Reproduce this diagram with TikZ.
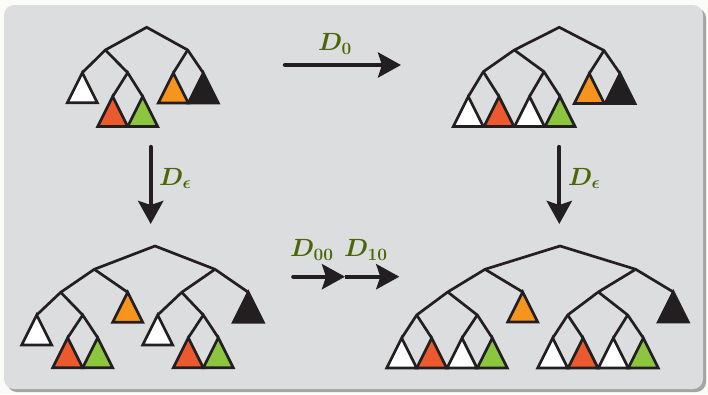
\documentclass[tikz,border=0pt]{standalone}
\usepackage{amsmath}
\usetikzlibrary{arrows.meta}
\definecolor{outside}{HTML}{FBFBF7}
\definecolor{panel}{HTML}{DCDDDF}
\definecolor{shadowc}{HTML}{A3A4A6}
\definecolor{ink}{HTML}{231F20}
\definecolor{lred}{HTML}{EB5A2E}
\definecolor{lgreen}{HTML}{8CC63F}
\definecolor{lorange}{HTML}{F7941D}
\definecolor{lblack}{HTML}{231F20}
\definecolor{lwhite}{HTML}{FFFFFF}
\definecolor{labelc}{HTML}{4A6608}
\newcommand\leaftri[2]{\filldraw[edge,fill=#2,line join=miter] (#1) -- ++(-15,30) -- ++(30,0) -- cycle;}
\begin{document}
\begin{tikzpicture}[x=1pt,y=-1pt,
  edge/.style={line width=2.7pt,draw=ink},
  bigarrow/.style={line width=4.3pt,draw=ink,line cap=round,-{Stealth[length=23pt,width=25pt,inset=4pt]}},
  lab/.style={text=labelc,inner sep=0pt,anchor=base west,font=\fontsize{25}{29}\selectfont\boldmath}]
\useasboundingbox (0,0) rectangle (708,394);
\fill[outside] (0,0) rectangle (708,394);
\fill[shadowc,rounded corners=10pt] (7,8) rectangle (706,392);
\fill[panel,rounded corners=10pt] (4,5) rectangle (703,389);

% ---------- Tree 1 ----------
\coordinate (t1r) at (146.7,27.3);
\coordinate (t1a) at (105.3,50);
\coordinate (t1b) at (187.7,50);
\coordinate (t1aa) at (82.3,72.7);
\coordinate (t1ab) at (127.7,72.7);
\coordinate (t1aba) at (112.7,96.5);
\coordinate (t1abb) at (142.7,96.5);
\coordinate (t1ba) at (173.3,73);
\coordinate (t1bb) at (203.3,73);
\draw[edge] (t1aa) -- (t1a) -- (t1r) -- (t1b) -- (t1bb);
\draw[edge] (t1a) -- (t1ab);
\draw[edge] (t1aba) -- (t1ab) -- (t1abb);
\draw[edge] (t1b) -- (t1ba);
\leaftri{t1aa}{lwhite}
\leaftri{t1aba}{lred}
\leaftri{t1abb}{lgreen}
\leaftri{t1ba}{lorange}
\leaftri{t1bb}{lblack}

% ---------- Tree 2 ----------
\coordinate (t2r) at (559.3,27.3);
\coordinate (t2a) at (514.3,50);
\coordinate (t2b) at (604,50.5);
\coordinate (t2aa) at (483.3,71.7);
\coordinate (t2ab) at (544,71.7);
\coordinate (t2aaa) at (468.3,96.5);
\coordinate (t2aab) at (499,96.5);
\coordinate (t2aba) at (529.5,96.5);
\coordinate (t2abb) at (560,96.5);
\coordinate (t2ba) at (589.3,73.5);
\coordinate (t2bb) at (620,73.5);
\draw[edge] (t2aaa) -- (t2aa) -- (t2a) -- (t2r) -- (t2b) -- (t2bb);
\draw[edge] (t2aa) -- (t2aab);
\draw[edge] (t2a) -- (t2ab) -- (t2abb);
\draw[edge] (t2ab) -- (t2aba);
\draw[edge] (t2b) -- (t2ba);
\leaftri{t2aaa}{lwhite}
\leaftri{t2aab}{lred}
\leaftri{t2aba}{lwhite}
\leaftri{t2abb}{lgreen}
\leaftri{t2ba}{lorange}
\leaftri{t2bb}{lblack}

% ---------- Tree 3 ----------
\coordinate (t3r) at (155,246);
\coordinate (t3a) at (94.3,269.3);
\coordinate (t3b) at (215,269.3);
\coordinate (t3aa) at (60.7,292.3);
\coordinate (t3ab) at (127.7,292.3);
\coordinate (t3aaa) at (36.7,315);
\coordinate (t3aab) at (82.7,315);
\coordinate (t3aaba) at (67.7,337.7);
\coordinate (t3aabb) at (97.7,337.7);
\coordinate (t3ba) at (181.7,292.3);
\coordinate (t3bb) at (248.3,292.3);
\coordinate (t3baa) at (157.7,315);
\coordinate (t3bab) at (203.3,315);
\coordinate (t3baba) at (188.3,337.7);
\coordinate (t3babb) at (218.3,337.7);
\draw[edge] (t3aaa) -- (t3aa) -- (t3a) -- (t3r) -- (t3b) -- (t3bb);
\draw[edge] (t3a) -- (t3ab);
\draw[edge] (t3aa) -- (t3aab);
\draw[edge] (t3aaba) -- (t3aab) -- (t3aabb);
\draw[edge] (t3baa) -- (t3ba) -- (t3b);
\draw[edge] (t3ba) -- (t3bab);
\draw[edge] (t3baba) -- (t3bab) -- (t3babb);
\leaftri{t3ab}{lorange}
\leaftri{t3aaa}{lwhite}
\leaftri{t3aaba}{lred}
\leaftri{t3aabb}{lgreen}
\leaftri{t3bb}{lblack}
\leaftri{t3baa}{lwhite}
\leaftri{t3baba}{lred}
\leaftri{t3babb}{lgreen}

% ---------- Tree 4 ----------
\coordinate (t4r) at (560,246);
\coordinate (t4a) at (485,269.3);
\coordinate (t4b) at (635.7,269.3);
\coordinate (t4aa) at (447.7,292);
\coordinate (t4ab) at (522.7,292);
\coordinate (t4aaa) at (416.7,315);
\coordinate (t4aab) at (477.3,315);
\coordinate (t4l1) at (401.7,338);
\coordinate (t4l2) at (431.7,338);
\coordinate (t4l3) at (462,338);
\coordinate (t4l4) at (492.3,338);
\coordinate (t4ba) at (598.3,292);
\coordinate (t4bb) at (673.3,292);
\coordinate (t4baa) at (567.7,315);
\coordinate (t4bab) at (627.7,315);
\coordinate (t4l5) at (552.7,338);
\coordinate (t4l6) at (583,338);
\coordinate (t4l7) at (613.3,338);
\coordinate (t4l8) at (643.3,338);
\draw[edge] (t4l1) -- (t4aaa) -- (t4aa) -- (t4a) -- (t4r) -- (t4b) -- (t4bb);
\draw[edge] (t4a) -- (t4ab);
\draw[edge] (t4aaa) -- (t4l2);
\draw[edge] (t4aa) -- (t4aab) -- (t4l4);
\draw[edge] (t4aab) -- (t4l3);
\draw[edge] (t4l5) -- (t4baa) -- (t4ba) -- (t4b);
\draw[edge] (t4baa) -- (t4l6);
\draw[edge] (t4ba) -- (t4bab) -- (t4l8);
\draw[edge] (t4bab) -- (t4l7);
\leaftri{t4ab}{lorange}
\leaftri{t4bb}{lblack}
\leaftri{t4l1}{lwhite}
\leaftri{t4l2}{lred}
\leaftri{t4l3}{lwhite}
\leaftri{t4l4}{lgreen}
\leaftri{t4l5}{lwhite}
\leaftri{t4l6}{lred}
\leaftri{t4l7}{lwhite}
\leaftri{t4l8}{lgreen}

% ---------- Arrows ----------
\coordinate (a0s) at (285,65);
\coordinate (a0e) at (401,65);
\coordinate (aLs) at (150.7,147);
\coordinate (aLe) at (150.7,224);
\coordinate (aRs) at (559.3,147);
\coordinate (aRe) at (559.3,224);
\coordinate (b1s) at (293.3,276.7);
\coordinate (b1e) at (345,276.7);
\coordinate (b2e) at (399.3,276.7);
\draw[bigarrow] (a0s) -- (a0e);
\draw[bigarrow] (aLs) -- (aLe);
\draw[bigarrow] (aRs) -- (aRe);
\draw[bigarrow] (b1s) -- (b1e);
\draw[bigarrow,line cap=butt] (b1e) -- (b2e);

\node[lab] (l0) at (318,50.7) {$D_{0}$};
\node[lab] (lL) at (159,185) {$D_{\epsilon}$};
\node[lab] (lR) at (568,185) {$D_{\epsilon}$};
\node[lab] (l00) at (290,256.7) {$D_{00}$};
\node[lab] (l10) at (344,256.7) {$D_{10}$};
\end{tikzpicture}
\end{document}
